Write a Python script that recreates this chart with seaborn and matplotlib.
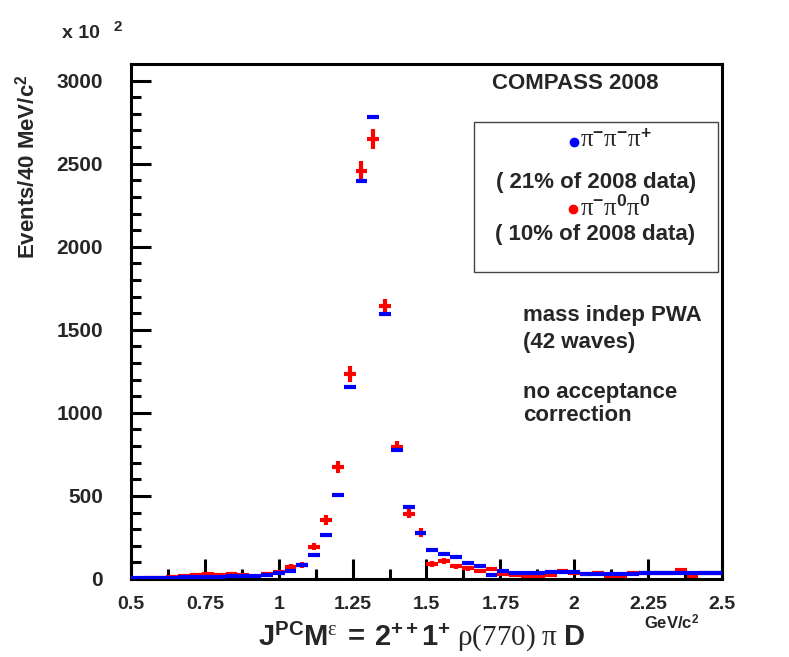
import numpy as np
import pandas as pd
import matplotlib
matplotlib.use("Agg")
import matplotlib.pyplot as plt
import matplotlib.patches as patches
import seaborn as sns

# mass bins (GeV/c^2), 40 MeV wide
mass_bins = [0.52, 0.56, 0.60, 0.64, 0.68, 0.72, 0.76, 0.80, 0.84, 0.88,
             0.92, 0.96, 1.00, 1.04, 1.08, 1.12, 1.16, 1.20, 1.24, 1.28,
             1.32, 1.36, 1.40, 1.44, 1.48, 1.52, 1.56, 1.60, 1.64, 1.68,
             1.72, 1.76, 1.80, 1.84, 1.88, 1.92, 1.96, 2.00, 2.04, 2.08,
             2.12, 2.16, 2.20, 2.24, 2.28, 2.32, 2.36, 2.40, 2.44, 2.48]

# pi- pi- pi+ (blue)
charged_counts = [5, 5, 5, 8, 10, 12, 15, 15, 20, 18,
                  18, 25, 35, 48, 85, 143, 267, 506, 1153, 2398,
                  2780, 1597, 779, 436, 279, 177, 150, 135, 95, 76,
                  24, 46, 38, 36, 36, 40, 44, 40, 32, 28,
                  28, 28, 32, 34, 34, 34, 36, 36, 36, 36]

# pi- pi0 pi0 (red)
neutral_counts = [3, 4, 6, 15, 18, 22, 28, 22, 32, 26,
                  4, 28, 40, 72, 85, 195, 354, 675, 1233, 2456,
                  2649, 1645, 795, 394, 279, 92, 106, 77, 66, 48,
                  60, 28, 24, 20, 12, 22, 46, 36, 28, 38,
                  20, 12, 36, 36, 36, 38, 52, 20, 36, 36]
neutral_errors = [10, 10, 10, 12, 12, 12, 12, 12, 12, 12,
                  10, 12, 15, 18, 18, 22, 30, 37, 50, 60,
                  60, 40, 33, 27, 25, 18, 18, 16, 15, 14,
                  14, 12, 12, 12, 10, 12, 14, 12, 12, 12,
                  10, 10, 12, 12, 12, 12, 14, 10, 12, 12]

df = pd.DataFrame({
    "mass": mass_bins,
    "charged": charged_counts,
    "neutral": neutral_counts,
    "neutral_err": neutral_errors,
})

sns.set_theme(style="ticks")
plt.rcParams["font.family"] = ["Liberation Sans", "DejaVu Sans"]
plt.rcParams["font.weight"] = "bold"
plt.rcParams["mathtext.fontset"] = "custom"
plt.rcParams["mathtext.rm"] = "Liberation Serif:normal"
plt.rcParams["mathtext.it"] = "Liberation Serif:italic:normal"
plt.rcParams["mathtext.bf"] = "Liberation Sans:bold"
plt.rcParams["mathtext.sf"] = "Liberation Sans:normal"

fig = plt.figure(figsize=(7.89, 6.57), dpi=100)
ax = fig.add_axes([131 / 789, 78 / 657, 591 / 789, 515 / 657])

half_bin = 0.02
ax.errorbar(df["mass"], df["neutral"], xerr=half_bin, yerr=df["neutral_err"],
            fmt="none", ecolor="red", elinewidth=3.0, capsize=0, zorder=2)
ax.errorbar(df["mass"], df["charged"], xerr=half_bin,
            fmt="none", ecolor="blue", elinewidth=3.0, capsize=0, zorder=3)

ax.set_xlim(0.5, 2.5)
ax.set_ylim(0, 3100)
ax.set_xticks([0.5, 0.75, 1, 1.25, 1.5, 1.75, 2, 2.25, 2.5])
ax.set_xticklabels(["0.5", "0.75", "1", "1.25", "1.5", "1.75", "2", "2.25", "2.5"])
ax.set_xticks(np.arange(0.625, 2.5, 0.25), minor=True)
ax.set_yticks([0, 500, 1000, 1500, 2000, 2500, 3000])
ax.set_yticks([v for v in range(100, 3100, 100) if v % 500], minor=True)

for side in ["top", "bottom", "left", "right"]:
    ax.spines[side].set_visible(True)
    ax.spines[side].set_linewidth(2.2)
    ax.spines[side].set_color("black")

ax.tick_params(axis="both", which="major", direction="in", length=14.5,
               width=2.2, color="black", labelsize=14)
ax.tick_params(axis="both", which="minor", direction="in", length=7.2,
               width=2.2, color="black")
ax.tick_params(axis="x", which="major", pad=12)
ax.tick_params(axis="y", which="major", pad=20, labelsize=15)
ax.tick_params(top=False, right=False, which="both")
for lbl in ax.get_xticklabels() + ax.get_yticklabels():
    lbl.set_fontweight("bold")

# axis titles
fig.text(27 / 789, 1 - 167 / 657, "Events/40 MeV/c$^\\mathbf{2}$", rotation=90,
         ha="center", va="center", fontsize=16, fontweight="bold")
fig.text(62 / 789, 1 - 34 / 657, "x 10", ha="left", va="center",
         fontsize=14, fontweight="bold")
fig.text(114 / 789, 1 - 27 / 657, "2", ha="left", va="center",
         fontsize=11, fontweight="bold")
fig.text(422 / 789, 1 - 646 / 657,
         r"$\mathbf{J}^{\mathbf{PC}}\mathbf{M}^{\mathrm{\varepsilon}}"
         r"\;\mathbf{=}\;\mathbf{2}^{\mathbf{++}}\mathbf{1}^{\mathbf{+}}\ "
         r"\mathrm{\rho(770)\ \pi}\ \mathbf{D}$",
         ha="center", va="baseline", fontsize=21)
fig.text(644 / 789, 1 - 623 / 657, "GeV/c$^\\mathbf{2}$", ha="left",
         va="center", fontsize=12, fontweight="bold")

# annotations inside the frame
ax.text(0.611, 0.962, "COMPASS 2008", transform=ax.transAxes, ha="left",
        va="center", fontsize=16, fontweight="bold")
ax.text(0.663, 0.511, "mass indep PWA", transform=ax.transAxes, ha="left",
        va="center", fontsize=16, fontweight="bold")
ax.text(0.663, 0.460, "(42 waves)", transform=ax.transAxes, ha="left",
        va="center", fontsize=16, fontweight="bold")
ax.text(0.663, 0.363, "no acceptance", transform=ax.transAxes, ha="left",
        va="center", fontsize=16, fontweight="bold")
ax.text(0.663, 0.317, "correction", transform=ax.transAxes, ha="left",
        va="center", fontsize=16, fontweight="bold")

# legend box
ax.add_patch(patches.Rectangle((0.580, 0.596), 0.413, 0.291,
                               transform=ax.transAxes, fill=False,
                               lw=1.0, edgecolor="#444444", zorder=5))
ax.plot([0.750], [0.849], "o", color="blue", ms=6,
        transform=ax.transAxes, clip_on=False, zorder=6)
ax.text(0.760, 0.852,
        r"$\mathrm{\pi}^{\mathbf{-}}\mathrm{\pi}^{\mathbf{-}}\mathrm{\pi}^{\mathbf{+}}$",
        transform=ax.transAxes, ha="left", va="center", fontsize=18)
ax.text(0.787, 0.769, "( 21% of 2008 data)", transform=ax.transAxes,
        ha="center", va="center", fontsize=16, fontweight="bold")
ax.plot([0.748], [0.718], "o", color="red", ms=6,
        transform=ax.transAxes, clip_on=False, zorder=6)
ax.text(0.760, 0.722,
        r"$\mathrm{\pi}^{\mathbf{-}}\mathrm{\pi}^{\mathbf{0}}\mathrm{\pi}^{\mathbf{0}}$",
        transform=ax.transAxes, ha="left", va="center", fontsize=18)
ax.text(0.785, 0.668, "( 10% of 2008 data)", transform=ax.transAxes,
        ha="center", va="center", fontsize=16, fontweight="bold")

fig.savefig("out.png", dpi=100)
plt.close(fig)
